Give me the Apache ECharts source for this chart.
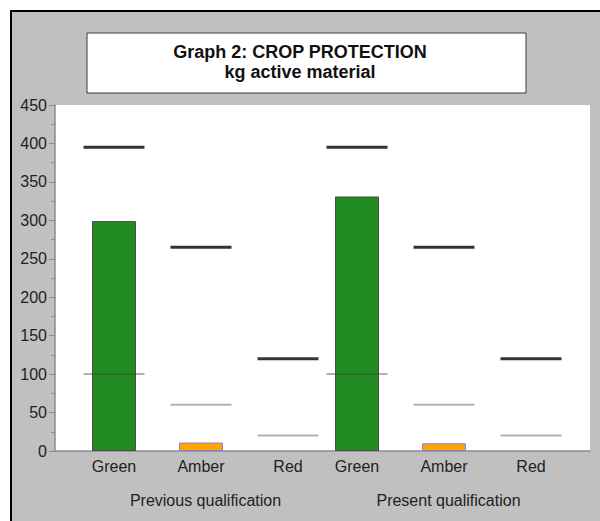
<!DOCTYPE html>
<html>
<head>
<meta charset="utf-8">
<script src="https://cdn.jsdelivr.net/npm/echarts@6/dist/echarts.min.js"></script>
<style>
html,body{margin:0;padding:0;background:#ffffff;}
#chart{width:600px;height:521px;}
</style>
</head>
<body>
<div id="chart"></div>
<script>
// ---- data ----
var titleLines = ['Graph 2: CROP PROTECTION', 'kg active material'];
var categories = ['Green', 'Amber', 'Red'];
var groupNames = ['Previous qualification', 'Present qualification'];
var previousValues = [299, 11, 0];
var presentValues = [331, 10, 0];
var upperLimits = [395, 265, 120];
var lowerLimits = [100, 60, 20];
var yTicks = [0, 50, 100, 150, 200, 250, 300, 350, 400, 450];

// ---- styles ----
var barColors = ['#228B22', '#FFA500', '#E00000'];
var barBorders = ['#4a4a4a', '#8a7fdc', '#E00000'];
var barBorderWidths = [1, 1, 0];
var FONT = 'Liberation Sans, Arial, sans-serif';

var chart = echarts.init(document.getElementById('chart'), null, {renderer: 'svg'});

var yMin = yTicks[0], yMax = yTicks[yTicks.length - 1], yStep = yTicks[1] - yTicks[0];
var gridTop = 105, gridBottom = 70;

function groupSeries(idx, values) {
  return [
    {
      type: 'bar', xAxisIndex: idx + 1, yAxisIndex: idx + 1, barWidth: 44, z: 2,
      data: values.map(function (v, i) {
        return {value: v, itemStyle: {color: barColors[i], borderColor: barBorders[i], borderWidth: barBorderWidths[i]}};
      })
    },
    {
      type: 'scatter', xAxisIndex: idx + 1, yAxisIndex: idx + 1, symbol: 'rect', symbolSize: [61, 2], z: 3,
      itemStyle: {color: 'rgba(60,60,60,0.5)'},
      data: lowerLimits.slice()
    },
    {
      type: 'scatter', xAxisIndex: idx + 1, yAxisIndex: idx + 1, symbol: 'rect', symbolSize: [61, 3], z: 4,
      itemStyle: {color: '#000000'},
      data: upperLimits.slice()
    }
  ];
}

function groupXAxis(idx, name) {
  return {
    type: 'category', gridIndex: idx + 1, data: categories,
    axisLine: {show: false}, axisTick: {show: false},
    axisLabel: {fontSize: 16, color: '#222', margin: 7, fontFamily: FONT},
    name: name, nameLocation: 'middle', nameGap: 41,
    nameTextStyle: {fontSize: 16, color: '#222', fontFamily: FONT, padding: [0, 0, 0, 9]}
  };
}

function hiddenY(idx) {
  return {type: 'value', gridIndex: idx, min: yMin, max: yMax, interval: yStep, show: false};
}

var option = {
  animation: false,
  backgroundColor: '#ffffff',
  textStyle: {fontFamily: FONT},
  graphic: [
    {type: 'rect', shape: {x: 11, y: 11, width: 700, height: 600}, style: {fill: '#c0c0c0', stroke: '#000', lineWidth: 2}, z: -10, silent: true},
    {type: 'rect', shape: {x: 87, y: 33, width: 439, height: 60}, style: {fill: '#ffffff', stroke: '#3a3a3a', lineWidth: 1}, z: -5, silent: true}
  ],
  title: {
    text: titleLines.join('\n'),
    left: 'center', top: 42, padding: [0, 0, 0, 12],
    textStyle: {fontSize: 18, fontWeight: 'bold', color: '#111', lineHeight: 20, fontFamily: FONT}
  },
  grid: [
    {left: 55, right: 10, top: gridTop, bottom: gridBottom, show: true, backgroundColor: '#ffffff', borderWidth: 0},
    {left: 70.5, width: 261, top: gridTop, bottom: gridBottom},
    {left: 313.5, width: 261, top: gridTop, bottom: gridBottom}
  ],
  xAxis: [
    {type: 'value', gridIndex: 0, min: 0, max: 1, axisLine: {show: true, onZero: false, lineStyle: {color: '#8c8c8c', width: 1.5}}, axisTick: {show: false}, axisLabel: {show: false}, splitLine: {show: false}},
    groupXAxis(0, groupNames[0]),
    groupXAxis(1, groupNames[1])
  ],
  yAxis: [
    {
      type: 'value', gridIndex: 0, min: yMin, max: yMax, interval: yStep,
      axisLine: {show: true, lineStyle: {color: '#8c8c8c', width: 1.5}},
      axisTick: {show: true, length: 6, lineStyle: {color: '#8c8c8c'}},
      minorTick: {show: true, splitNumber: 2, length: 4, lineStyle: {color: '#8c8c8c'}},
      axisLabel: {fontSize: 16, color: '#222', margin: 8, fontFamily: FONT},
      splitLine: {show: false}
    },
    hiddenY(1),
    hiddenY(2)
  ],
  series: groupSeries(0, previousValues).concat(groupSeries(1, presentValues))
};

chart.setOption(option);
</script>
</body>
</html>
